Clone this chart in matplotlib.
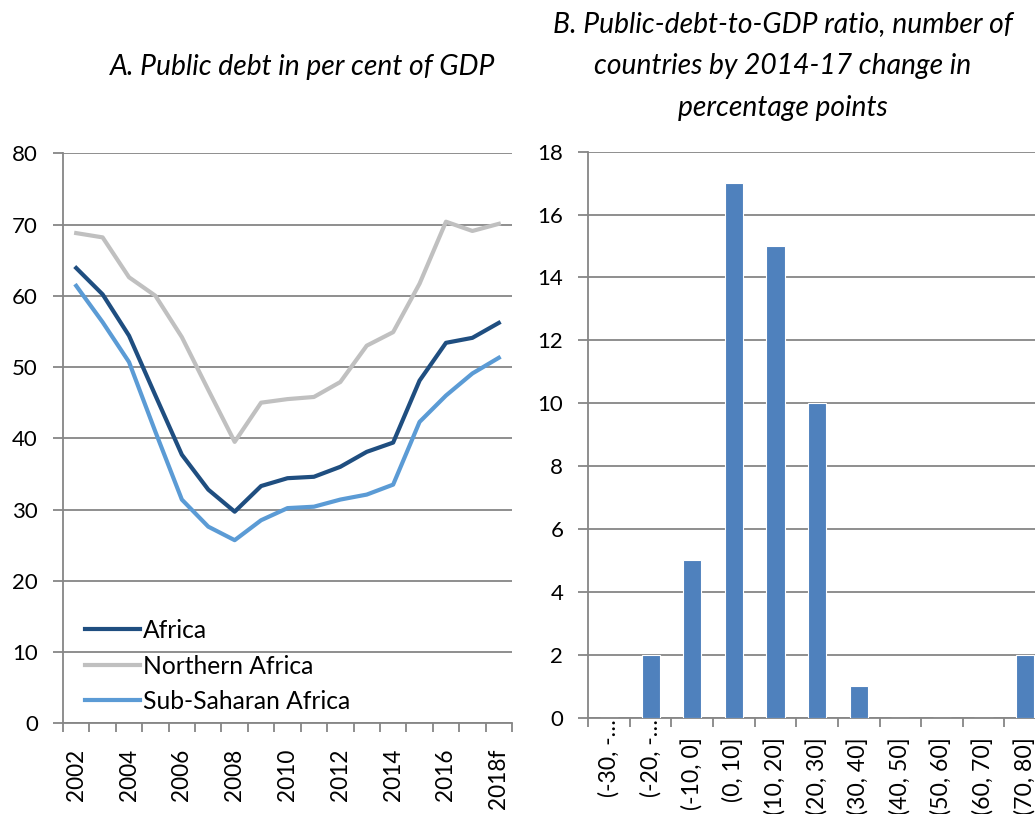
import matplotlib
matplotlib.use("Agg")
import matplotlib.pyplot as plt
import numpy as np
from matplotlib.ticker import FixedLocator, NullFormatter

plt.rcParams['font.family'] = ['Lato', 'DejaVu Sans']

# ---- data ----
years = [str(y) for y in range(2002, 2018)] + ["2018f"]
year_labels = ["2002", "", "2004", "", "2006", "", "2008", "", "2010", "", "2012", "", "2014", "", "2016", "", "2018f"]
africa = [63.9, 60.2, 54.4, 46.0, 37.7, 32.8, 29.7, 33.3, 34.4, 34.6, 36.0, 38.1, 39.4, 48.1, 53.4, 54.1, 56.2]
northern = [68.8, 68.2, 62.6, 60.0, 54.2, 46.8, 39.5, 45.0, 45.5, 45.8, 47.9, 53.0, 54.9, 61.7, 70.4, 69.1, 70.1]
subsaharan = [61.4, 56.3, 50.7, 40.9, 31.4, 27.6, 25.7, 28.5, 30.2, 30.4, 31.4, 32.1, 33.5, 42.3, 46.0, 49.1, 51.3]
series_names = ["Africa", "Northern Africa", "Sub-Saharan Africa"]

bins = ["(-30, -\u2026", "(-20, -\u2026", "(-10, 0]", "(0, 10]", "(10, 20]", "(20, 30]",
        "(30, 40]", "(40, 50]", "(50, 60]", "(60, 70]", "(70, 80]"]
counts = [0, 2, 5, 17, 15, 10, 1, 0, 0, 0, 2]

title_a = "A. Public debt in per cent of GDP"
title_b = "B. Public-debt-to-GDP ratio, number of\ncountries by 2014-17 change in\npercentage points"

# ---- style ----
W, H = 1035, 814
fig = plt.figure(figsize=(W / 100, H / 100), dpi=100)
grid_c = "#868686"
fs_y = 16
fs_x = 16.3
fs_bin = 16.6
fs_leg = 17.7
fs_title = 20.3

def px_axes(x0, y0, x1, y1):
    return fig.add_axes([x0 / W, 1 - y1 / H, (x1 - x0) / W, (y1 - y0) / H])

def style_axes(ax, ymax, ystep, ncat):
    for s in ["top", "right"]:
        ax.spines[s].set_visible(False)
    for s in ["left", "bottom"]:
        ax.spines[s].set_color(grid_c)
        ax.spines[s].set_linewidth(1.3)
    ax.set_ylim(0, ymax)
    ax.set_yticks(np.arange(0, ymax + 0.1, ystep))
    ax.yaxis.grid(True, color=grid_c, linewidth=1.3)
    ax.set_axisbelow(True)
    ax.tick_params(axis='y', length=7, width=1.3, color=grid_c, pad=11, labelsize=fs_y)
    ax.set_xlim(-0.5, ncat - 0.5)
    ax.xaxis.set_minor_locator(FixedLocator(np.arange(-0.5, ncat, 1.0)))
    ax.xaxis.set_minor_formatter(NullFormatter())
    ax.tick_params(axis='x', which='minor', length=6.5, width=1.3, color=grid_c)

# Left panel
ax1 = px_axes(63, 153.3, 512, 723.3)
x = np.arange(len(years))
l1, = ax1.plot(x, africa, color="#1F4E80", lw=3, solid_joinstyle='round')
l2, = ax1.plot(x, northern, color="#C0C0C0", lw=3, solid_joinstyle='round')
l3, = ax1.plot(x, subsaharan, color="#5B9BD5", lw=3, solid_joinstyle='round')
style_axes(ax1, 80, 10, len(years))
ax1.set_xticks(x)
ax1.set_xticklabels(year_labels, rotation=90, fontsize=fs_x)
ax1.tick_params(axis='x', which='major', length=0, pad=18)
ax1.legend([l1, l2, l3], series_names, loc='upper left',
           bbox_to_anchor=(0.049, 0.183), frameon=False, fontsize=fs_leg,
           handlelength=2.24, handletextpad=0.12, labelspacing=0.51,
           borderpad=0, borderaxespad=0)
fig.text(302.5 / W, 1 - 67 / H, title_a, fontsize=fs_title, style='italic', ha='center', va='center')

# Right panel
ax2 = px_axes(588.3, 151.7, 588.3 + 41.6 * len(bins), 717.7)
xb = np.arange(len(bins))
ax2.bar(xb, counts, width=0.44, color="#4F81BD", edgecolor="white", linewidth=0.8, zorder=3)
style_axes(ax2, 18, 2, len(bins))
ax2.set_xticks(xb)
ax2.set_xticklabels(bins, rotation=90, fontsize=fs_bin, va='top')
ax2.tick_params(axis='x', which='major', length=0, pad=14)
ticks = ax2.xaxis.get_major_ticks()
ticks[0].set_pad(1)
ticks[1].set_pad(1)
fig.text(782.5 / W, 1 - 66 / H, title_b, fontsize=fs_title, style='italic', ha='center', va='center',
         linespacing=1.75)

fig.savefig("out.png", dpi=100)
